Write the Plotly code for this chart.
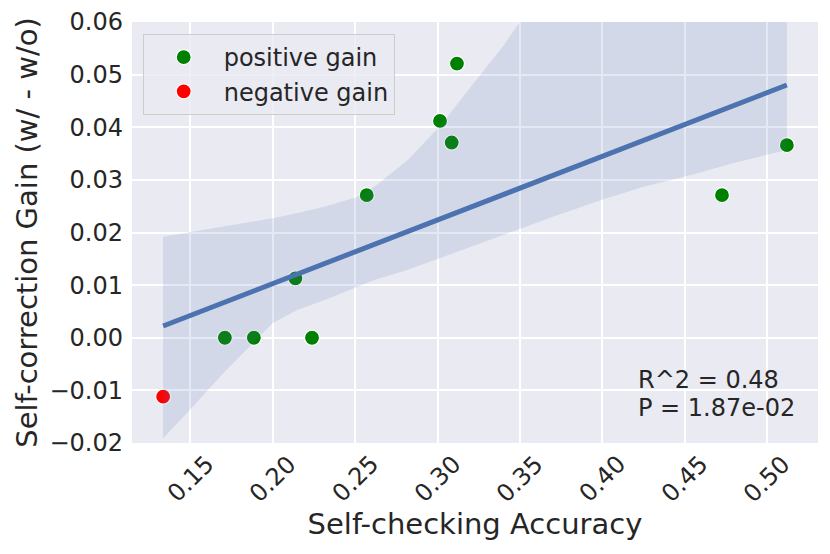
import numpy as np
import plotly.graph_objects as go

# points
acc_pos = [0.1709, 0.1885, 0.2238, 0.2137, 0.2570, 0.3015, 0.3086, 0.3118, 0.4727, 0.5121]
gain_pos = [0.0, 0.0, 0.0, 0.0113, 0.0271, 0.0412, 0.0371, 0.0521, 0.0271, 0.0366]
acc_neg = [0.1334]
gain_neg = [-0.0112]

# 95% confidence band (bootstrap)
band_x = [0.1334, 0.150, 0.170, 0.190, 0.200, 0.215, 0.230, 0.250, 0.262, 0.282,
          0.302, 0.322, 0.340, 0.350, 0.370, 0.400, 0.425, 0.450, 0.480, 0.5121]
band_lo = [-0.0191, -0.0136, -0.0067, -0.0005, 0.0028, 0.0053, 0.0070, 0.0095, 0.0110, 0.0129,
           0.0152, 0.0176, 0.0197, 0.0208, 0.0230, 0.0262, 0.0287, 0.0306, 0.0332, 0.0357]
band_hi = [0.0192, 0.0201, 0.0212, 0.0222, 0.0227, 0.0237, 0.0248, 0.0266, 0.0288, 0.0338,
           0.0404, 0.0484, 0.0555, 0.0600, 0.0650, 0.0720, 0.0750, 0.0770, 0.0780, 0.0780]

x_ticks = [0.15, 0.20, 0.25, 0.30, 0.35, 0.40, 0.45, 0.50]
x_labels = ["0.15", "0.20", "0.25", "0.30", "0.35", "0.40", "0.45", "0.50"]
y_ticks = [-0.02, -0.01, 0.0, 0.01, 0.02, 0.03, 0.04, 0.05, 0.06]
y_labels = ["\u22120.02", "\u22120.01", "0.00", "0.01", "0.02", "0.03", "0.04", "0.05", "0.06"]

stats_text = ["R^2 = 0.48", "P = 1.87e-02"]

# regression line through all points
all_x = np.array(acc_neg + acc_pos)
all_y = np.array(gain_neg + gain_pos)
slope, icpt = np.polyfit(all_x, all_y, 1)
fit_x = np.array([all_x.min(), all_x.max()])
fit_y = slope * fit_x + icpt

FONT = "DejaVu Sans"
BLUE = "#4C72B0"
TXT = "#262626"

fig = go.Figure()

fig.add_trace(go.Scatter(
    x=acc_pos, y=gain_pos, mode="markers", name="positive gain", legendgroup="pos",
    marker=dict(color="green", size=15, line=dict(color="white", width=1.2)),
))
fig.add_trace(go.Scatter(
    x=acc_neg, y=gain_neg, mode="markers", name="negative gain", legendgroup="neg",
    marker=dict(color="red", size=15, line=dict(color="white", width=1.2)),
))

# band drawn over the dots like seaborn does
fig.add_trace(go.Scatter(
    x=band_x, y=band_lo, mode="lines", line=dict(width=0),
    showlegend=False, hoverinfo="skip",
))
fig.add_trace(go.Scatter(
    x=band_x, y=band_hi, mode="lines", line=dict(width=0),
    fill="tonexty", fillcolor="rgba(76,114,176,0.15)",
    showlegend=False, hoverinfo="skip",
))
fig.add_trace(go.Scatter(
    x=fit_x, y=fit_y, mode="lines", line=dict(color=BLUE, width=5),
    showlegend=False,
))

# rotated x tick labels centred under their ticks (matplotlib style)
for v, lab in zip(x_ticks, x_labels):
    fig.add_annotation(
        x=v, xref="x", y=-0.0855, yref="paper", text=lab, showarrow=False,
        textangle=-45, xanchor="center", yanchor="middle",
        font=dict(family=FONT, size=24, color=TXT),
    )

fig.add_annotation(
    x=0.4205, xref="x", y=-0.0080, yref="y", text=stats_text[0], showarrow=False,
    xanchor="left", yanchor="middle", font=dict(family=FONT, size=24, color=TXT),
)
fig.add_annotation(
    x=0.4205, xref="x", y=-0.0133, yref="y", text=stats_text[1], showarrow=False,
    xanchor="left", yanchor="middle", font=dict(family=FONT, size=24, color=TXT),
)

# page body has an 8px margin, so the figure is 8px smaller than the window
fig.update_layout(
    width=822, height=546,
    margin=dict(l=124, r=12, t=14, b=111),
    paper_bgcolor="white", plot_bgcolor="#EAEAF2",
    font=dict(family=FONT, size=24, color=TXT),
    showlegend=True,
    legend=dict(
        x=0.0156, y=0.9715, xanchor="left", yanchor="top",
        traceorder="normal", tracegroupgap=4,
        bgcolor="rgba(234,234,242,0.8)", bordercolor="#cccccc", borderwidth=1,
        font=dict(family=FONT, size=24, color=TXT),
        itemwidth=70,
    ),
)
fig.update_xaxes(
    range=[0.1145, 0.531], tickvals=x_ticks, showticklabels=False,
    showgrid=True, gridcolor="white", gridwidth=1.5, zeroline=False, showline=False,
    title=dict(text="Self-checking Accuracy", font=dict(family=FONT, size=29), standoff=70),
    automargin=False,
)
fig.update_yaxes(
    range=[-0.02, 0.06], tickvals=y_ticks, ticktext=y_labels,
    showgrid=True, gridcolor="white", gridwidth=1.5, zeroline=False, showline=False,
    ticklabelstandoff=8,
    tickfont=dict(family=FONT, size=24, color=TXT),
    title=dict(text="Self-correction Gain (w/ - w/o)", font=dict(family=FONT, size=29), standoff=3),
    automargin=False,
)

fig.write_html("out.html")
